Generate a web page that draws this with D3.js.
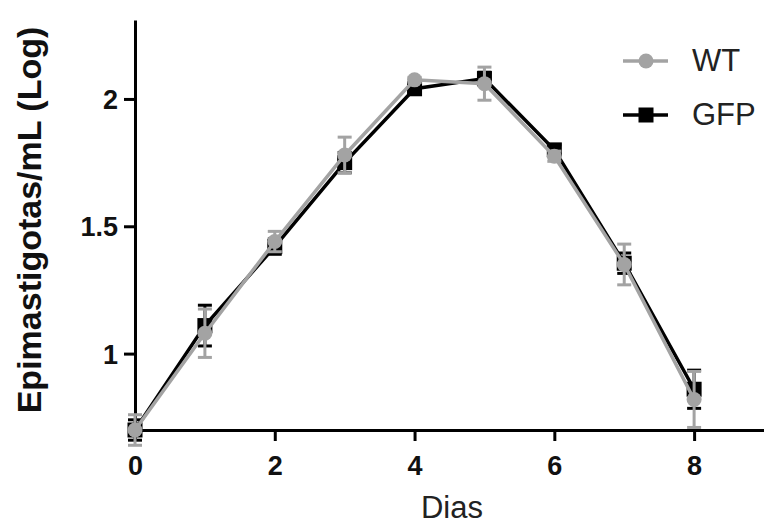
<!DOCTYPE html>
<html><head><meta charset="utf-8">
<script src="https://cdn.jsdelivr.net/npm/d3@7"></script>
<style>html,body{margin:0;padding:0;background:#fff;}svg{display:block;}</style>
</head><body><svg id="c" width="764" height="525"></svg>
<script>
const days = [0,1,2,3,4,5,6,7,8];
const wtMean = [0.70,1.08,1.44,1.78,2.075,2.06,1.775,1.35,0.82];
const wtErr  = [0.06,0.095,0.04,0.07,0.01,0.065,0.02,0.08,0.11];
const gfpMean = [0.70,1.11,1.42,1.75,2.04,2.08,1.80,1.355,0.86];
const gfpErr  = [0.04,0.08,0.03,0.04,0.01,0.025,0.02,0.04,0.075];
const xTicks = [0,2,4,6,8];
const yTicks = [1,1.5,2];
const seriesNames = ["WT","GFP"];

const svg = d3.select("#c");
const font = "'Liberation Sans', Arial, Helvetica, sans-serif";
const x = d3.scaleLinear().domain([0,9]).range([135,764]);
const y = d3.scaleLinear().domain([0.7,2.31]).range([430,20]);
const gray = "#a3a3a3", black = "#000";

// axes
const xa = svg.append("g").attr("transform","translate(0,430)")
  .call(d3.axisBottom(x).tickValues(xTicks).tickSize(11).tickPadding(15).tickSizeOuter(0).tickFormat(d3.format("d")));
const ya = svg.append("g").attr("transform","translate(135,0)")
  .call(d3.axisLeft(y).tickValues(yTicks).tickSize(11).tickPadding(6).tickSizeOuter(0).tickFormat(d=>String(d)));
[xa,ya].forEach(a=>{
  a.select(".domain").attr("stroke",black).attr("stroke-width",3);
  a.selectAll(".tick line").attr("stroke",black).attr("stroke-width",3);
  a.selectAll(".tick text").attr("fill","#111").attr("font-family",font).attr("font-weight","bold").attr("font-size",27);
});
ya.selectAll(".tick text").attr("dy","0.35em");
xa.selectAll(".tick text").attr("dy","0.71em");

function drawSeries(mean, err, color, shape){
  const g = svg.append("g");
  const line = d3.line().x((d,i)=>x(days[i])).y(d=>y(d));
  g.append("path").datum(mean).attr("d",line).attr("fill","none").attr("stroke",color).attr("stroke-width",3.5);
  days.forEach((d,i)=>{
    const cx = x(d), lo = y(mean[i]-err[i]), hi = y(mean[i]+err[i]);
    g.append("line").attr("x1",cx).attr("x2",cx).attr("y1",lo).attr("y2",hi).attr("stroke",color).attr("stroke-width",3);
    [lo,hi].forEach(v=>g.append("line").attr("x1",cx-7).attr("x2",cx+7).attr("y1",v).attr("y2",v).attr("stroke",color).attr("stroke-width",3));
  });
  days.forEach((d,i)=>{
    if(shape==="circle") g.append("circle").attr("cx",x(d)).attr("cy",y(mean[i])).attr("r",7.5).attr("fill",color);
    else g.append("rect").attr("x",x(d)-7.5).attr("y",y(mean[i])-7.5).attr("width",15).attr("height",15).attr("fill",color);
  });
}
drawSeries(gfpMean, gfpErr, black, "square");
drawSeries(wtMean, wtErr, gray, "circle");

// legend
const leg = [{n:seriesNames[0],c:gray,s:"circle",y:61},{n:seriesNames[1],c:black,s:"square",y:115}];
leg.forEach(l=>{
  svg.append("line").attr("x1",623).attr("x2",668).attr("y1",l.y).attr("y2",l.y).attr("stroke",l.c).attr("stroke-width",3.5);
  if(l.s==="circle") svg.append("circle").attr("cx",646).attr("cy",l.y).attr("r",7.5).attr("fill",l.c);
  else svg.append("rect").attr("x",638.5).attr("y",l.y-7.5).attr("width",15).attr("height",15).attr("fill",l.c);
  svg.append("text").attr("x",692).attr("y",l.y+10).attr("font-family",font).attr("font-size",31).attr("fill","#222").text(l.n);
});

// axis titles
svg.append("text").attr("x",452).attr("y",518).attr("text-anchor","middle").attr("font-family",font).attr("font-size",31).attr("fill","#222").text("Dias");
svg.append("text").attr("transform","translate(41,220) rotate(-90)").attr("text-anchor","middle")
  .attr("font-family",font).attr("font-weight","bold").attr("font-size",34).attr("fill","#111").text("Epimastigotas/mL (Log)");
</script></body></html>
